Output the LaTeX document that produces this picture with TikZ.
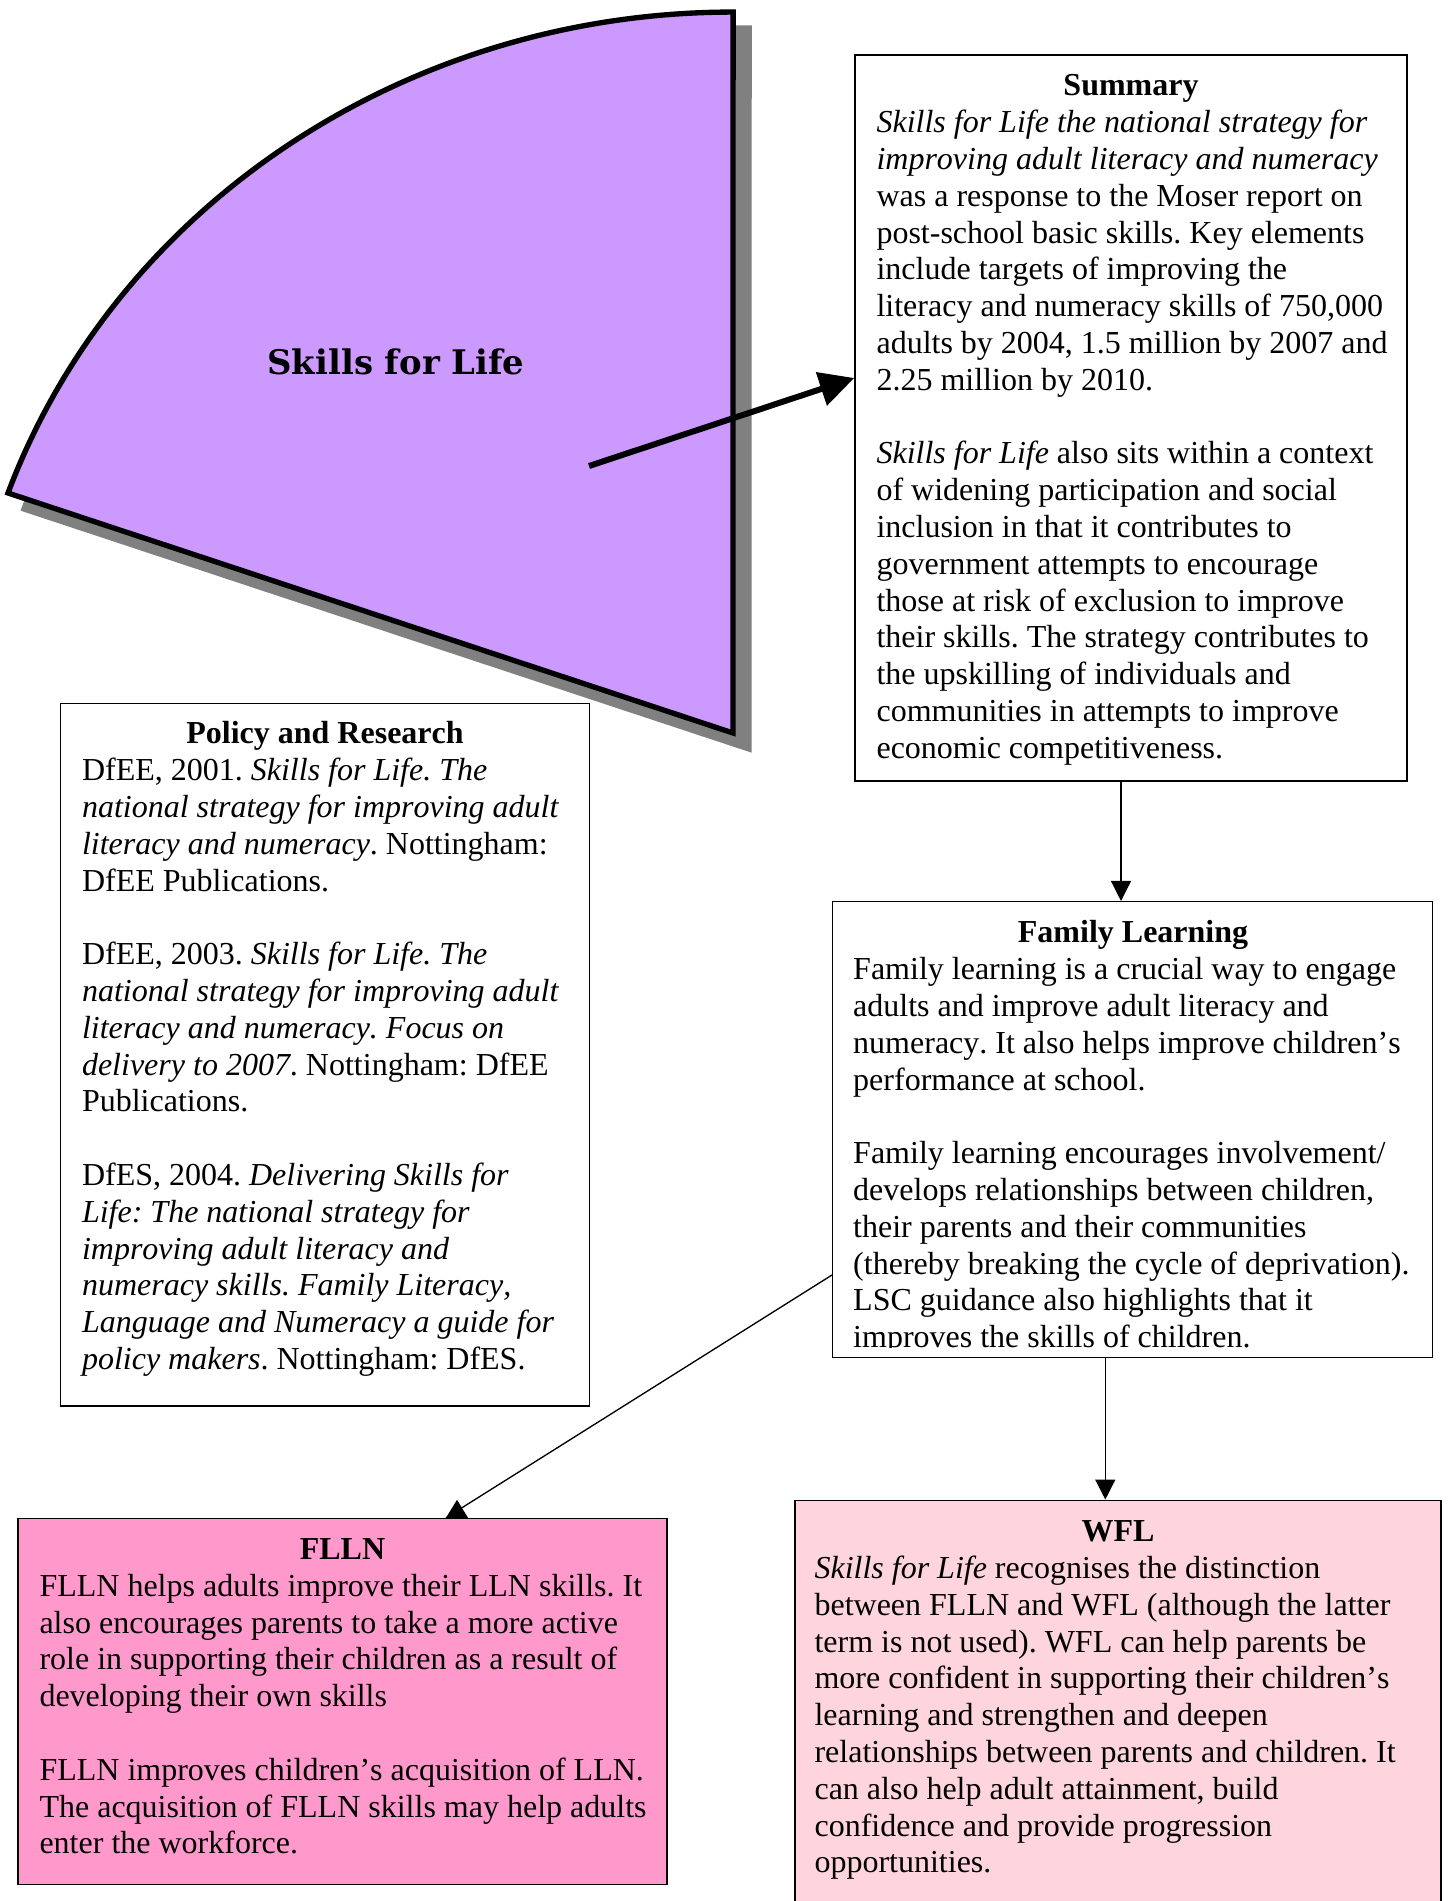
\documentclass[tikz,border=0pt]{standalone}
\usepackage{fontspec}
\setmainfont{Liberation Serif}[Ligatures=CommonOff,Kerning=Off]
\newfontfamily\wedgefont{DejaVu Serif}
\usetikzlibrary{arrows.meta,fit}
\definecolor{lav}{RGB}{204,153,255}
\definecolor{rose}{RGB}{255,153,204}
\definecolor{blush}{RGB}{255,213,221}
\definecolor{shade}{RGB}{128,128,128}
\newcommand\fixspaces{\spaceskip=3pt\relax\xspaceskip=3pt\relax}
\begin{document}
\begin{tikzpicture}[x=0.375pt,y=-0.375pt,
  box/.style={draw=black,line width=0.55pt,rectangle,inner sep=0pt},
  body/.style={anchor=north west,inner sep=0pt,align=left,text width=245pt,font=\fontsize{12pt}{13.8pt}\selectfont},
  ttl/.style={anchor=base,inner sep=0pt,font=\fontsize{12pt}{13.8pt}\selectfont\bfseries},
  conn/.style={draw=black,line width=0.5pt,-{Triangle[length=7.5pt,width=7.5pt]}},
  bigarrow/.style={draw=black,line width=2.25pt,-{Triangle[length=13pt,width=12.7pt]}},
  wedgeline/.style={line width=2pt,line join=miter},
]
\path[use as bounding box] (0,0) rectangle (1447,1901);
\clip (0,0) rectangle (1447,1901);

% wedge shadow and wedge
\coordinate (wc) at (733,733);
\coordinate (ws) at (749,749);
\filldraw[wedgeline,draw=shade,fill=shade] (ws) -- +(-725,-240) arc[start angle=-160.55,end angle=-90,x radius=769,y radius=721] -- cycle;
\filldraw[wedgeline,draw=black,fill=lav] (wc) -- +(-725,-240) arc[start angle=-160.55,end angle=-90,x radius=769,y radius=721] -- cycle;
\node[font=\wedgefont\bfseries\fontsize{12.7pt}{15pt}\selectfont,anchor=base,inner sep=0pt] (sfl) at (396,374) {Skills for Life};

% boxes
\node[box,fit={(855,55) (1407,781)}] (summary) {};
\node[box,fit={(60.6,703.3) (589.3,1406)}] (policy) {};
\node[box,fit={(832.7,901.7) (1432.5,1357.7)}] (family) {};
\node[box,fill=rose,fit={(18,1518.5) (667,1884.5)}] (flln) {};
\node[box,fill=blush,fit={(795,1500.3) (1441,1930)}] (wfl) {};

% summary
\node[ttl] (sumttl) at (1131,95.5) {Summary};
\node[body] (sumtxt) at (876,106.5) {\fixspaces\strut\textit{Skills for Life the national strategy for}\\
\textit{improving adult literacy and numeracy}\\
was a response to the Moser report on\\
post-school basic skills. Key elements\\
include targets of improving the\\
literacy and numeracy skills of 750,000\\
adults by 2004, 1.5 million by 2007 and\\
2.25 million by 2010.\\[13.8pt]
\textit{Skills for Life} also sits within a context\\
of widening participation and social\\
inclusion in that it contributes to\\
government attempts to encourage\\
those at risk of exclusion to improve\\
their skills. The strategy contributes to\\
the upskilling of individuals and\\
communities in attempts to improve\\
economic competitiveness.};

% policy
\node[ttl] (polttl) at (325,743.5) {Policy and Research};
\node[body] (poltxt) at (81.5,754.5) {\fixspaces\strut DfEE, 2001. \textit{Skills for Life. The}\\
\textit{national strategy for improving adult}\\
\textit{literacy and numeracy}. Nottingham:\\
DfEE Publications.\\[13.8pt]
DfEE, 2003. \textit{Skills for Life. The}\\
\textit{national strategy for improving adult}\\
\textit{literacy and numeracy. Focus on}\\
\textit{delivery to 2007}. Nottingham: DfEE\\
Publications.\\[13.8pt]
DfES, 2004. \textit{Delivering Skills for}\\
\textit{Life: The national strategy for}\\
\textit{improving adult literacy and}\\
\textit{numeracy skills. Family Literacy,}\\
\textit{Language and Numeracy a guide for}\\
\textit{policy makers}. Nottingham: DfES.};

% family learning
\node[ttl] (famttl) at (1133,942.5) {Family Learning};
\begin{scope}
\clip (family.north west) rectangle (family.east |- 0,1347.6);
\node[body] (famtxt) at (852.7,953.4) {\fixspaces\strut Family learning is a crucial way to engage\\
adults and improve adult literacy and\\
numeracy. It also helps improve children’s\\
performance at school.\\[13.8pt]
Family learning encourages involvement/\\
develops relationships between children,\\
their parents and their communities\\
(thereby breaking the cycle of deprivation).\\
LSC guidance also highlights that it\\
improves the skills of children.};
\end{scope}

% FLLN
\node[ttl] (fllnttl) at (342.5,1559) {FLLN};
\node[body] (fllntxt) at (39,1570) {\fixspaces\strut FLLN helps adults improve their LLN skills. It\\
also encourages parents to take a more active\\
role in supporting their children as a result of\\
developing their own skills\\[13.8pt]
FLLN improves children’s acquisition of LLN.\\
The acquisition of FLLN skills may help adults\\
enter the workforce.};

% WFL
\node[ttl] (wflttl) at (1118,1541.2) {WFL};
\node[body] (wfltxt) at (814,1552.2) {\fixspaces\strut\textit{Skills for Life} recognises the distinction\\
between FLLN and WFL (although the latter\\
term is not used). WFL can help parents be\\
more confident in supporting their children’s\\
learning and strengthen and deepen\\
relationships between parents and children. It\\
can also help adult attainment, build\\
confidence and provide progression\\
opportunities.};

% connectors
\coordinate (a1s) at (589,466);
\coordinate (a1y) at (0,378);
\draw[bigarrow] (a1s) -- (summary.west |- a1y);
\coordinate (a2x) at (1121,0);
\draw[conn] (summary.south -| a2x) -- (family.north -| a2x);
\coordinate (a3x) at (1105.3,0);
\draw[conn] (family.south -| a3x) -- (wfl.north -| a3x);
\coordinate (a4y) at (0,1275);
\coordinate (a4x) at (446,0);
\draw[draw=black,line width=0.5pt] (family.west |- a4y) -- (flln.north -| a4x);
\fill[black] (flln.north -| a4x) -- ++(11,-18) -- ++(11,18) -- cycle;
\end{tikzpicture}
\end{document}
